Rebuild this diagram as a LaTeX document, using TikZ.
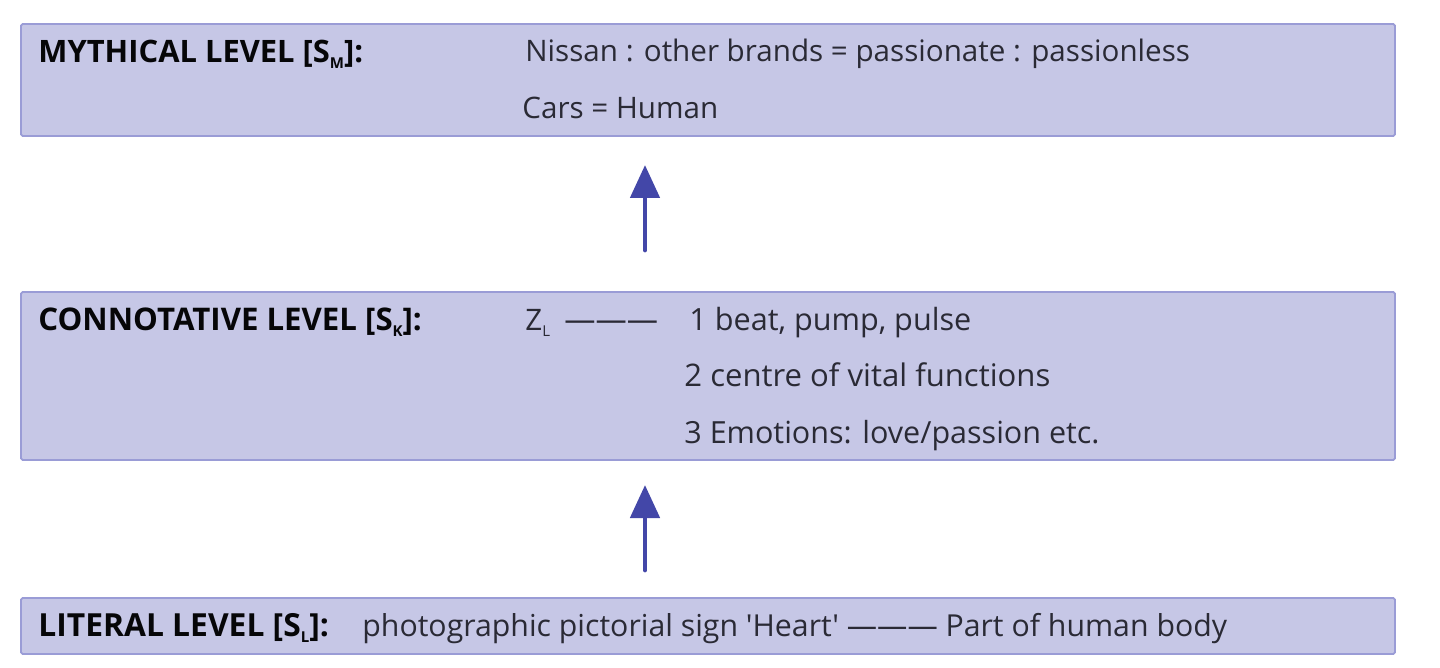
\documentclass[tikz,border=0pt]{standalone}
\usepackage{fontspec}
\setmainfont{Open Sans}[Ligatures=TeXOff]
\usetikzlibrary{arrows.meta}
\definecolor{boxfill}{HTML}{C6C7E6}
\definecolor{boxline}{HTML}{9A9CD6}
\definecolor{arrowc}{HTML}{4347A8}
\definecolor{txt}{HTML}{2A2A35}
\tikzset{
 x=0.5pt,y=-0.5pt,
 lvl/.style={draw=boxline,fill=boxfill,line width=0.9pt,rounded corners=0.8pt},
 lab/.style={anchor=base west,inner sep=0pt,font=\fontsize{#1}{16}\selectfont,text=txt},
 lab/.default=14.8,
 blab/.style={anchor=base west,inner sep=0pt,font=\fontsize{#1}{16}\selectfont\bfseries,text=black!85!txt},
 up/.style={draw=arrowc,line width=2.4pt,line cap=round,-{Triangle[length=16.5pt,width=14.5pt]}}
}
\newcommand{\subs}[1]{\raisebox{-3pt}{\fontsize{7.5}{8}\selectfont #1}}
\begin{document}
\begin{tikzpicture}
\useasboundingbox (0,0) rectangle (1440,668);
\path[lvl] (21,24) rectangle (1395,136);
\path[lvl] (21,292) rectangle (1395,460);
\path[lvl] (21,598) rectangle (1395,654);
\coordinate (a1s) at (645,250); \coordinate (a1e) at (645,165);
\coordinate (a2s) at (645,570); \coordinate (a2e) at (645,485);
\draw[up] (a1s) -- (a1e);
\draw[up] (a2s) -- (a2e);
\node[blab=15.45] (m) at (38,62.5) {MYTHICAL LEVEL [S\subs{M}]:};
\node[lab] (m1) at (525,62) {Nissan : other brands = passionate : passionless};
\node[lab] (m2) at (522,119) {Cars = Human};
\node[blab=15.6] (c) at (38,330.5) {CONNOTATIVE LEVEL [S\subs{K}]:};
\node[lab] (z) at (525,330) {Z\subs{L}};
\node[lab=15.6] (zd) at (564,330) {———};
\node[lab=15.3] (c1) at (689,330) {1 beat, pump, pulse};
\node[lab=15.55] (c2) at (684,386) {2 centre of vital functions};
\node[lab=15.25] (c3) at (684,443) {3 Emotions: love/passion etc.};
\node[blab=15.9] (l) at (38,636) {LITERAL LEVEL [S\subs{L}]:};
\node[lab=15.13] (l1) at (362,636) {photographic pictorial sign 'Heart' ——— Part of human body};
\end{tikzpicture}
\end{document}
